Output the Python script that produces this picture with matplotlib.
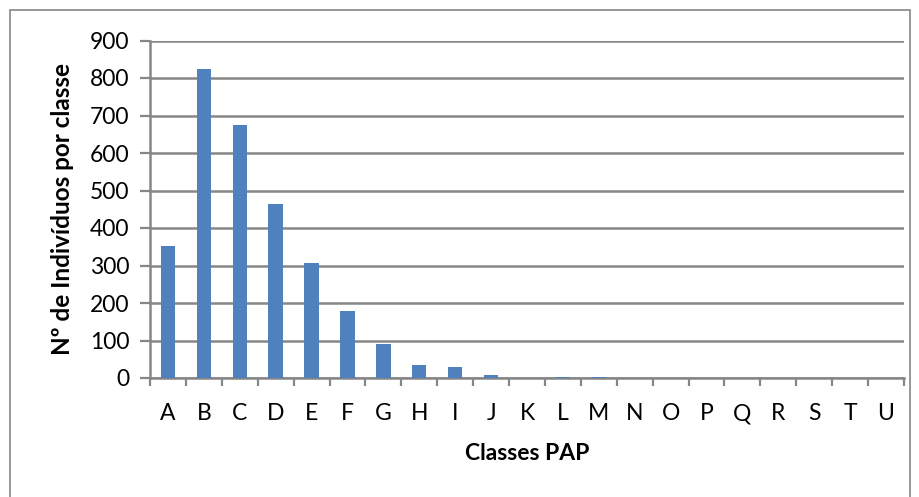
"""Bar chart: number of individuals per PAP class (A..U)."""

import matplotlib

matplotlib.use("Agg")
import matplotlib.pyplot as plt
from matplotlib.patches import Rectangle
import numpy as np

classes = list("ABCDEFGHIJKLMNOPQRSTU")
counts = [351, 823, 676, 465, 307, 178, 92, 34, 29, 7, 1, 3, 4, 0, 1, 0, 0, 0, 0, 0, 0]

BAR = "#4F81BD"
GRID = "#868686"

plt.rcParams["font.family"] = ["Lato", "DejaVu Sans"]

W, H = 919, 497
fig = plt.figure(figsize=(W / 100, H / 100), dpi=100)
ax = fig.add_axes([150 / W, 1 - 378 / H, (904 - 150) / W, (378 - 40.5) / H])

x = np.arange(len(classes))
ax.bar(x, counts, width=0.4, color=BAR, zorder=3)

ax.set_xlim(-0.5, len(classes) - 0.5)
ax.set_ylim(0, 900)
ax.set_yticks(range(0, 901, 100))
ax.yaxis.grid(True, color=GRID, linewidth=1.8, zorder=0)
ax.set_axisbelow(True)

ax.set_xticks(x)
ax.set_xticklabels(classes)
ax.set_xticks(np.arange(-0.5, len(classes)), minor=True)
ax.tick_params(axis="x", which="major", length=0, pad=18, labelsize=16.5)
ax.tick_params(axis="x", which="minor", length=6, width=1.6, color=GRID, direction="out")
ax.tick_params(axis="y", length=7, width=1.6, color=GRID, direction="out", pad=8, labelsize=16.5)

for side in ("top", "right"):
    ax.spines[side].set_visible(False)
for side in ("left", "bottom"):
    ax.spines[side].set_color(GRID)
    ax.spines[side].set_linewidth(1.8)

ax.set_xlabel("Classes PAP", fontsize=16.5, fontweight="bold", labelpad=14)
ax.set_ylabel("Nº de Indivíduos por classe", fontsize=17.5, fontweight="bold", labelpad=11)

# outer chart frame
fig.patches.append(
    Rectangle((10 / W, -0.1), 900 / W, 1.1 - 10 / H, transform=fig.transFigure,
              fill=False, edgecolor=GRID, linewidth=1.2)
)

fig.savefig("out.png", dpi=100)
